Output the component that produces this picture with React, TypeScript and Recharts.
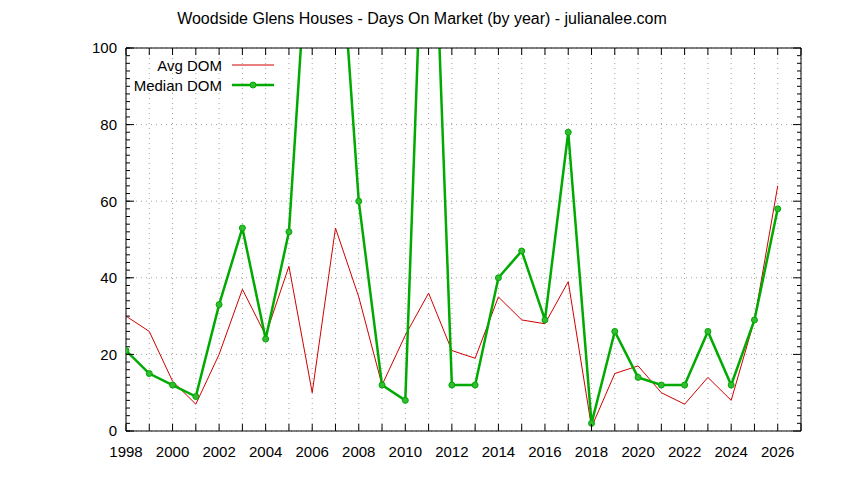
import { LineChart, Line, XAxis, YAxis, CartesianGrid, Legend } from "recharts";

// values
const years = [
  1998, 1999, 2000, 2001, 2002, 2003, 2004, 2005, 2006, 2007, 2008, 2009, 2010, 2011, 2012,
  2013, 2014, 2015, 2016, 2017, 2018, 2019, 2020, 2021, 2022, 2023, 2024, 2025, 2026,
];
const avgDom = [
  30, 26, 13, 7, 20, 37, 25, 43, 10, 53, 35, 12, 25, 36, 21,
  19, 35, 29, 28, 39, 1, 15, 17, 10, 7, 14, 8, 29, 64,
];
// 2006, 2007 and 2011 run off the top of the plot
const medianDom = [
  21, 15, 12, 9, 33, 53, 24, 52, 146, 147, 60, 12, 8, 178, 12,
  12, 40, 47, 29, 78, 2, 26, 14, 12, 12, 26, 12, 29, 58,
];

const yearTicks = [
  1998, 1999, 2000, 2001, 2002, 2003, 2004, 2005, 2006, 2007, 2008, 2009, 2010, 2011, 2012,
  2013, 2014, 2015, 2016, 2017, 2018, 2019, 2020, 2021, 2022, 2023, 2024, 2025, 2026, 2027,
];
const yMajorTicks = [0, 20, 40, 60, 80, 100];
const yMinorTicks = [
  0, 2, 4, 6, 8, 10, 12, 14, 16, 18, 20, 22, 24, 26, 28, 30, 32, 34, 36, 38, 40, 42, 44, 46, 48, 50,
  52, 54, 56, 58, 60, 62, 64, 66, 68, 70, 72, 74, 76, 78, 80, 82, 84, 86, 88, 90, 92, 94, 96, 98, 100,
];

const data = years.map((year, i) => ({ year, avg: avgDom[i], median: medianDom[i] }));

const FONT = '"Liberation Sans", Arial, sans-serif';
const RED = "#d00000";
const GREEN = "#00aa00";

// gnuplot style: tick marks point into the plot, labels on every other year
const BottomTick = (props: any) => {
  const { x, y, payload } = props;
  const year = payload.value;
  return (
    <g>
      <line x1={x} x2={x} y1={y} y2={y - 7} stroke="#000" />
      {year % 2 === 0 && (
        <text x={x} y={y + 15} dy="0.71em" textAnchor="middle" fontSize={15} fontFamily={FONT} fill="#000">
          {year}
        </text>
      )}
    </g>
  );
};

const TopTick = (props: any) => {
  const { x, y } = props;
  return <line x1={x} x2={x} y1={y} y2={y + 7} stroke="#000" />;
};

const LeftTick = (props: any) => {
  const { x, y, payload } = props;
  return (
    <g>
      <line x1={x} x2={x + 8} y1={y} y2={y} stroke="#000" />
      <text x={x - 9} y={y} dy="0.355em" textAnchor="end" fontSize={15} fontFamily={FONT} fill="#000">
        {payload.value}
      </text>
    </g>
  );
};

const RightTick = (props: any) => {
  const { x, y, payload } = props;
  const len = payload.value % 20 === 0 ? 8 : 4;
  return <line x1={x} x2={x - len} y1={y} y2={y} stroke="#000" />;
};

const renderLegend = (props: any) => {
  const payload = props.payload || [];
  return (
    <svg width={170} height={44} style={{ display: "block" }}>
      {payload.map((entry: any, i: number) => {
        const y = 11 + i * 20;
        const isMedian = entry.dataKey === "median";
        return (
          <g key={entry.value}>
            <text
              x={98}
              y={y}
              textAnchor="end"
              dominantBaseline="central"
              fontSize={15}
              fontFamily={FONT}
              fill="#000"
            >
              {entry.value}
            </text>
            <line x1={108} x2={150} y1={y} y2={y} stroke={entry.color} strokeWidth={isMedian ? 2.5 : 1} />
            {isMedian && <circle cx={129} cy={y} r={3} fill="#33bb33" stroke={GREEN} strokeWidth={1} />}
          </g>
        );
      })}
    </svg>
  );
};

export default function App() {
  return (
    <div
      style={{
        position: "absolute",
        left: 0,
        top: 0,
        width: 844,
        height: 480,
        background: "#fff",
        fontFamily: FONT,
      }}
    >
      <div
        style={{
          position: "absolute",
          top: 10,
          left: 0,
          width: 844,
          textAlign: "center",
          fontSize: 16,
          color: "#000",
        }}
      >
        Woodside Glens Houses - Days On Market (by year) - julianalee.com
      </div>
      <LineChart width={844} height={480} data={data} margin={{ top: 48, right: 43, bottom: 19, left: 86 }}>
        <CartesianGrid xAxisId="x" yAxisId="y" stroke="#a0a0a0" strokeDasharray="1 4" />

        <XAxis
          xAxisId="x"
          dataKey="year"
          type="number"
          domain={[1998, 2027]}
          allowDataOverflow
          ticks={yearTicks}
          interval={0}
          tickLine={false}
          tickSize={0}
          tickMargin={0}
          height={30}
          axisLine={{ stroke: "#000" }}
          tick={<BottomTick />}
        />
        <XAxis
          xAxisId="xt"
          orientation="top"
          dataKey="year"
          type="number"
          domain={[1998, 2027]}
          allowDataOverflow
          ticks={yearTicks}
          interval={0}
          mirror
          tickLine={false}
          tickSize={0}
          tickMargin={0}
          axisLine={{ stroke: "#000" }}
          tick={<TopTick />}
        />

        <YAxis
          yAxisId="y"
          type="number"
          domain={[0, 100]}
          allowDataOverflow
          ticks={yMajorTicks}
          interval={0}
          width={40}
          tickLine={false}
          tickSize={0}
          tickMargin={0}
          axisLine={{ stroke: "#000" }}
          tick={<LeftTick />}
        />
        <YAxis
          yAxisId="yl"
          type="number"
          domain={[0, 100]}
          allowDataOverflow
          ticks={yMinorTicks}
          interval={0}
          mirror
          tickSize={4}
          tickLine={{ stroke: "#000" }}
          axisLine={false}
          tick={() => <g />}
        />
        <YAxis
          yAxisId="yr"
          orientation="right"
          type="number"
          domain={[0, 100]}
          allowDataOverflow
          ticks={yMinorTicks}
          interval={0}
          mirror
          tickLine={false}
          tickSize={0}
          tickMargin={0}
          axisLine={{ stroke: "#000" }}
          tick={<RightTick />}
        />

        <Legend
          content={renderLegend}
          layout="vertical"
          align="center"
          verticalAlign="middle"
          wrapperStyle={{ position: "absolute", left: 124, top: 54, width: 170, height: 44 }}
        />

        <Line
          xAxisId="x"
          yAxisId="y"
          name="Avg DOM"
          dataKey="avg"
          type="linear"
          stroke={RED}
          strokeWidth={1}
          dot={false}
          activeDot={false}
          isAnimationActive={false}
        />
        <Line
          xAxisId="x"
          yAxisId="y"
          name="Median DOM"
          dataKey="median"
          type="linear"
          stroke={GREEN}
          strokeWidth={2.5}
          dot={{ r: 3, fill: "#33bb33", stroke: GREEN, strokeWidth: 1 }}
          activeDot={false}
          isAnimationActive={false}
        />
      </LineChart>
    </div>
  );
}
